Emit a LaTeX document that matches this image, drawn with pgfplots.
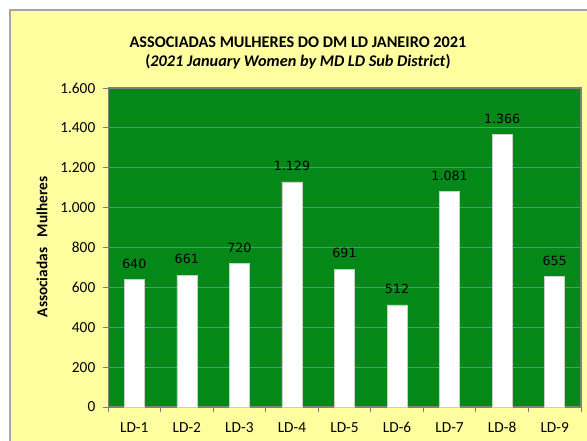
\documentclass[border=0pt]{standalone}
\usepackage{fontspec}
\setmainfont{Carlito}
\newfontfamily\labelfont{DejaVu Sans}
\usepackage{pgfplots}
\pgfplotsset{compat=1.18}
\definecolor{bgyellow}{RGB}{255,255,160}
\definecolor{plotgreen}{RGB}{4,137,24}
\begin{document}
\begin{tikzpicture}
\useasboundingbox (0,0) rectangle (440.25pt,330.75pt);
\begin{scope}
\clip (0,0) rectangle (440.25pt,330.75pt);
\fill[white] (0,0) rectangle (440.25pt,330.75pt);
\filldraw[fill=bgyellow, draw=gray!70, line width=0.8pt] (7.5pt,-10pt) rectangle (460pt,323.25pt);
\end{scope}
\node[font=\fontsize{12.2}{14}\selectfont\bfseries] at (223.5pt,299.25pt) {ASSOCIADAS MULHERES DO DM LD JANEIRO 2021};
\node[font=\fontsize{12.2}{14}\selectfont\bfseries] at (223.5pt,284.25pt) {(\textit{2021 January Women by MD LD Sub District})};
\node[font=\fontsize{11.5}{13}\selectfont\bfseries, rotate=90] at (31.5pt,145.5pt) {Associadas\hspace{8pt}Mulheres};
\begin{axis}[
  at={(81pt,25.5pt)}, anchor=south west,
  scale only axis, width=354.75pt, height=239.25pt,
  xmin=0.5, xmax=9.5, ymin=0, ymax=1600,
  axis background/.style={fill=plotgreen},
  axis line style={draw=gray, line width=0.6pt},
  axis x line*=bottom, axis y line*=left,
  ytick={0,200,400,600,800,1000,1200,1400,1600},
  yticklabels={0,200,400,600,800,1.000,1.200,1.400,1.600},
  ymajorgrids,
  major grid style={draw=gray, line width=0.9pt},
  xtick={0.5,1.5,2.5,3.5,4.5,5.5,6.5,7.5,8.5,9.5},
  x tick label as interval,
  xticklabels={LD-1,LD-2,LD-3,LD-4,LD-5,LD-6,LD-7,LD-8,LD-9},
  tick align=outside,
  major tick length=4pt,
  tick style={draw=gray, line width=0.6pt},
  ticklabel style={font=\fontsize{11.5}{13}\selectfont},
  xticklabel style={yshift=-4pt},
  yticklabel style={xshift=-2pt},
  clip=false,
]
\addplot[ybar, fill=white, draw=gray!40, bar width=15pt,
  nodes near coords={\pgfmathprintnumber[1000 sep={.}, assume math mode=true]{\pgfplotspointmeta}},
  nodes near coords style={font=\labelfont\fontsize{9.5}{11}\selectfont, anchor=center, yshift=12pt, text=black}]
coordinates {(1,640) (2,661) (3,720) (4,1129) (5,691) (6,512) (7,1081) (8,1366) (9,655)};
\draw[gray, line width=0.8pt] (rel axis cs:0,1) -- (rel axis cs:1,1) -- (rel axis cs:1,0);
\end{axis}
\end{tikzpicture}
\end{document}
